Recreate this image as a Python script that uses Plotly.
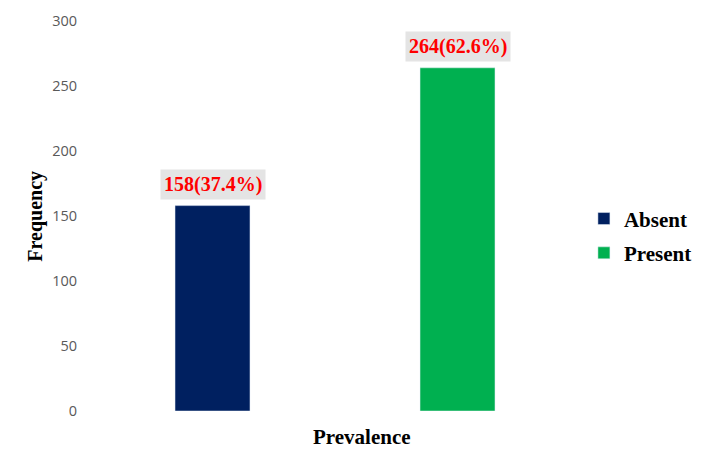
import plotly.graph_objects as go

categories = ["Absent", "Present"]
frequencies = [158, 264]
labels = ["158(37.4%)", "264(62.6%)"]
colors = ["#002060", "#00B050"]
y_ticks = [0, 50, 100, 150, 200, 250, 300]

fig = go.Figure()
for cat, val, col in zip(categories, frequencies, colors):
    fig.add_trace(go.Bar(x=[cat], y=[val], name=cat, marker_color=col,
                         width=0.306, hoverinfo="skip", legendgroup=cat))

for cat, val, lab in zip(categories, frequencies, labels):
    fig.add_annotation(x=cat, y=val, xref="x", yref="y", text=lab,
                       showarrow=False, yanchor="bottom", yshift=6,
                       bgcolor="#E4E4E4", borderpad=3,
                       font=dict(family="Liberation Serif", size=20, color="#FF0000", weight="bold"))

fig.add_annotation(x=0.555, y=0, xref="paper", yref="paper", text="<b>Prevalence</b>",
                   showarrow=False, yanchor="top", xanchor="center", yshift=-12,
                   font=dict(family="Liberation Serif", size=21, color="#000000"))
fig.add_annotation(x=-0.113, y=0.5, xref="paper", yref="paper", text="<b>Frequency</b>",
                   showarrow=False, textangle=-90, xanchor="center", yanchor="middle",
                   font=dict(family="Liberation Serif", size=20, color="#000000"))

fig.update_layout(
    width=701, height=464,
    margin=dict(l=82, r=129, t=13, b=61, autoexpand=False),
    plot_bgcolor="white", paper_bgcolor="white",
    barmode="overlay",
    showlegend=True,
    legend=dict(x=1.008, y=0.449, xanchor="left", yanchor="middle",
                font=dict(family="Liberation Serif", size=21, color="#000000", weight="bold"),
                itemwidth=30, tracegroupgap=4),
    xaxis=dict(categoryorder="array", categoryarray=categories, range=[-0.5, 1.5],
               showticklabels=False, showgrid=False, zeroline=False, showline=False,
               automargin=False),
    yaxis=dict(range=[0, 300], tickvals=y_ticks, showgrid=False, zeroline=False,
               showline=False, ticklabelstandoff=12, automargin=False,
               tickfont=dict(family="Open Sans", size=14.5, color="#595959")),
)

fig.write_html("out.html")
